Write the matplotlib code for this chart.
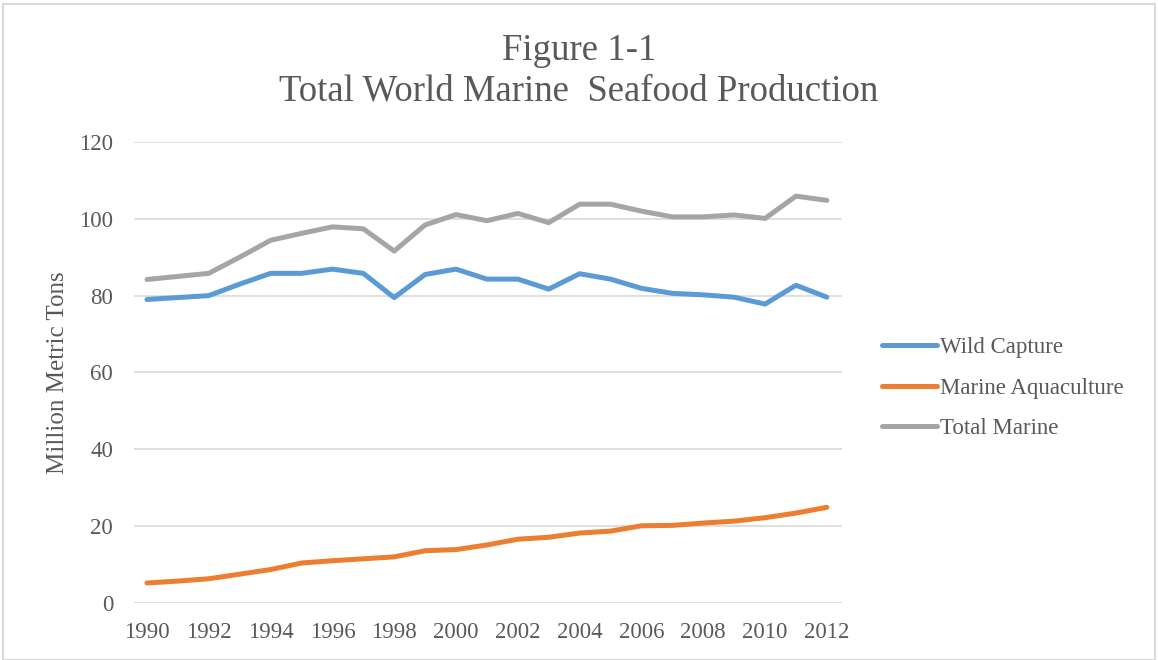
import matplotlib
matplotlib.use("Agg")
import matplotlib.pyplot as plt
from matplotlib.patches import Rectangle

plt.rcParams['font.family'] = ['Liberation Serif', 'DejaVu Serif']

# ---------------------------- data ----------------------------
years = list(range(1990, 2013))
wild_capture = [79.0, 79.5, 80.0, 83.0, 85.8, 85.8, 86.9, 85.8, 79.5, 85.5, 86.9, 84.3,
                84.3, 81.7, 85.7, 84.3, 81.9, 80.6, 80.2, 79.6, 77.8, 82.7, 79.6]
marine_aquaculture = [5.2, 5.7, 6.3, 7.5, 8.7, 10.4, 11.0, 11.5, 12.0, 13.6, 13.9, 15.1,
                      16.6, 17.1, 18.2, 18.7, 20.1, 20.2, 20.8, 21.3, 22.2, 23.4, 24.9]
total_marine = [84.2, 85.0, 85.8, 90.0, 94.4, 96.2, 97.9, 97.4, 91.6, 98.4, 101.1, 99.5,
                101.4, 99.0, 103.8, 103.8, 102.0, 100.5, 100.5, 101.0, 100.1, 105.9, 104.8]
series_names = ["Wild Capture", "Marine Aquaculture", "Total Marine"]
series_colors = ["#5B9BD5", "#ED7D31", "#A5A5A5"]
x_ticks = list(range(1990, 2013, 2))
y_ticks = [0, 20, 40, 60, 80, 100, 120]

TEXT = "#595959"

fig = plt.figure(figsize=(11.58, 6.6), dpi=100)
ax = fig.add_axes([0.1157, 0.0864, 0.6114, 0.6985])

for vals, name, col in zip([wild_capture, marine_aquaculture, total_marine], series_names, series_colors):
    ax.plot(years, vals, color=col, lw=3.6, label=name, solid_capstyle="round", solid_joinstyle="round")

ax.set_xlim(1989.58, 2012.49)
ax.set_ylim(0, 120)
ax.set_xticks(x_ticks)
ax.set_yticks(y_ticks)
ax.tick_params(length=0, labelsize=16.5, colors=TEXT)
ax.tick_params(axis="x", pad=14)
ax.tick_params(axis="y", pad=15)
ax.grid(axis="y", color="#D9D9D9", lw=1.2)
ax.set_axisbelow(True)
for s in ax.spines.values():
    s.set_visible(False)
ax.set_ylabel("Million Metric Tons", fontsize=18, color=TEXT, labelpad=7)

fig.text(0.5, 0.923, "Figure 1-1", ha="center", va="center", fontsize=26.5, color=TEXT)
fig.text(0.5, 0.862, "Total World Marine  Seafood Production", ha="center", va="center",
         fontsize=26.5, color=TEXT)

leg = ax.legend(loc="center left", bbox_to_anchor=(882 / 1158, 1 - 388 / 660),
                bbox_transform=fig.transFigure, frameon=False, borderpad=0, borderaxespad=0,
                fontsize=16.5, handlelength=2.4, labelspacing=0.87, handletextpad=0.15)
for t in leg.get_texts():
    t.set_color(TEXT)

fig.patches.append(Rectangle((0.003, 0.0), 0.994, 0.994, transform=fig.transFigure,
                             fill=False, edgecolor="#D9D9D9", lw=1.5))

fig.savefig("out.png", dpi=100)
